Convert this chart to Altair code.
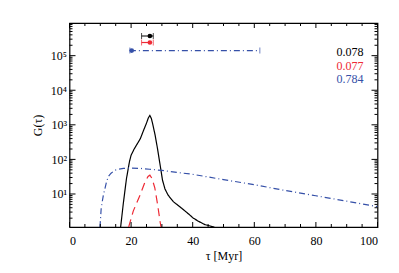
import altair as alt
import pandas as pd

# ---- data ----
tau_black = [16.6, 17.5, 18.5, 19.5, 20.0, 21.0, 22.0, 23.0, 24.0, 25.0, 25.6, 26.1,
             26.6, 27.2, 27.8, 28.5, 29.4, 30.2, 31.0, 32.0, 33.7, 35.5, 37.2, 39.1,
             40.2, 42.0, 44.0, 46.7, 48.0]
g_black = [1.1, 5.6, 28, 89, 132, 200, 282, 398, 676, 1120, 1585, 1860,
           1510, 890, 500, 224, 71, 25, 14, 9.3, 6.0, 4.5, 3.4, 2.45,
           2.0, 1.6, 1.3, 1.12, 1.0]

tau_red = [19.2, 20.7, 22.9, 24.5, 25.5, 26.1, 26.8, 27.7, 28.6, 29.4, 29.8]
g_red = [1.1, 3.2, 9.3, 22, 32, 35, 28, 15, 5, 1.6, 1.0]

tau_blue = [9.9, 10.3, 11.0, 12.0, 12.6, 13.5, 14.8, 16.0, 17.5, 20, 23, 26, 30, 35,
            40, 50, 60, 70, 80, 90, 100]
g_blue = [1.1, 4.0, 9.3, 22, 32, 40, 49, 52, 55, 56, 55, 52, 48, 42,
          37, 26, 18.6, 12.6, 8.9, 6.2, 4.3]

series_names = ["black", "red", "blue"]
series_colors = ["#000000", "#ee2a35", "#3550a8"]
series_dash = [[1, 0], [8, 5], [6, 3, 1, 3]]

err_center = [26.1, 26.1, 20.2]
err_lo = [23.4, 23.4, 19.6]
err_hi = [27.2, 27.2, 61.8]
err_y = [3.7e5, 2.4e5, 1.4e5]

label_texts = ["0.078", "0.077", "0.784"]

x_major = [0, 20, 40, 60, 80, 100]
x_minor = [v for v in range(5, 100, 5) if v % 20 != 0]
y_major = [10, 100, 1000, 10000, 100000]
y_minor = [k * 10 ** d for d in range(0, 6) for k in range(2, 10)]

X_DOMAIN = [0, 100]
Y_DOMAIN = [1.11, 8.8e5]
W, H = 308, 204
FONT = "Liberation Serif"

# ---- tables ----
rows = []
for name, ts, gs in zip(series_names, [tau_black, tau_red, tau_blue], [g_black, g_red, g_blue]):
    for t, g in zip(ts, gs):
        rows.append({"tau": t, "G": g, "s": name})
curves = pd.DataFrame(rows)

err = pd.DataFrame({"c": err_center, "lo": err_lo, "hi": err_hi, "y": err_y, "s": series_names})
y_minor = [v for v in y_minor if Y_DOMAIN[0] <= v <= Y_DOMAIN[1] and v not in y_major]

xs = alt.Scale(domain=X_DOMAIN, nice=False, zero=False)
ys = alt.Scale(type="log", domain=Y_DOMAIN, nice=False)
cs = alt.Scale(domain=series_names, range=series_colors)
ds = alt.Scale(domain=series_names, range=series_dash)

xax = alt.Axis(values=x_major, labelPadding=8, titlePadding=4)
yax = alt.Axis(values=y_major, labelPadding=3, titlePadding=6,
               labelExpr="'10' + ['⁰','¹','²','³','⁴','⁵','⁶'][round(log(datum.value)/LN10)]")
XT = "τ [Myr]"
YT = "G(τ)"


def X(f):
    return alt.X(f, scale=xs, axis=xax, title=XT)


def Y(f):
    return alt.Y(f, scale=ys, axis=yax, title=YT)


lines = alt.Chart(curves).mark_line(strokeWidth=1.2, clip=True).encode(
    x=X("tau:Q"),
    y=Y("G:Q"),
    color=alt.Color("s:N", scale=cs, legend=None),
    strokeDash=alt.StrokeDash("s:N", scale=ds, legend=None),
    detail="s:N",
)

bars = alt.Chart(err).mark_rule(strokeWidth=1.2).encode(
    x=X("lo:Q"),
    x2="hi:Q",
    y=Y("y:Q"),
    color=alt.Color("s:N", scale=cs, legend=None),
    strokeDash=alt.StrokeDash("s:N", scale=ds, legend=None),
)
cap_lo = alt.Chart(err).mark_tick(orient="vertical", size=6, thickness=1).encode(
    x=X("lo:Q"), y=Y("y:Q"), color=alt.Color("s:N", scale=cs, legend=None))
cap_hi = alt.Chart(err).mark_tick(orient="vertical", size=6, thickness=1).encode(
    x=X("hi:Q"), y=Y("y:Q"), color=alt.Color("s:N", scale=cs, legend=None))
dots = alt.Chart(err).mark_circle(size=22, opacity=1).encode(
    x=X("c:Q"), y=Y("y:Q"), color=alt.Color("s:N", scale=cs, legend=None))

labels = []
for i, (txt, col) in enumerate(zip(label_texts, series_colors)):
    labels.append(
        alt.Chart(pd.DataFrame({"t": [txt]})).mark_text(
            font=FONT, fontSize=12, align="right", baseline="middle", color=col
        ).encode(text="t:N", x=alt.value(W - 14), y=alt.value(29 + i * 13.5))
    )


def xticks(vals, length, top):
    df = pd.DataFrame({"v": vals})
    y0 = 0 if top else H
    y1 = length if top else H - length
    return alt.Chart(df).mark_rule(color="black", strokeWidth=1).encode(
        x=X("v:Q"), y=alt.value(y0), y2=alt.value(y1))


def yticks(vals, length, right):
    df = pd.DataFrame({"v": vals})
    x0 = W if right else 0
    x1 = W - length if right else length
    return alt.Chart(df).mark_rule(color="black", strokeWidth=1).encode(
        y=Y("v:Q"), x=alt.value(x0), x2=alt.value(x1))


ticks = [
    xticks(x_major, 5, False), xticks(x_minor, 3, False),
    xticks(x_major, 5, True), xticks(x_minor, 3, True),
    yticks(y_major, 6, False), yticks(y_minor, 3, False),
    yticks(y_major, 6, True), yticks(y_minor, 3, True),
]

chart = alt.layer(lines, bars, cap_lo, cap_hi, dots, *labels, *ticks).properties(
    width=W, height=H,
    autosize=alt.AutoSizeParams(type="none"),
    padding={"left": 61.5, "top": 15, "right": 12, "bottom": 37},
).configure_axis(
    labelFont=FONT, titleFont=FONT, labelFontSize=12, titleFontSize=12,
    titleFontWeight="normal", ticks=False, domain=False, grid=False,
    labelColor="black", titleColor="black",
).configure_view(stroke="black", strokeWidth=1.2)

chart.save("out.html", embed_options={"renderer": "svg", "actions": False})
